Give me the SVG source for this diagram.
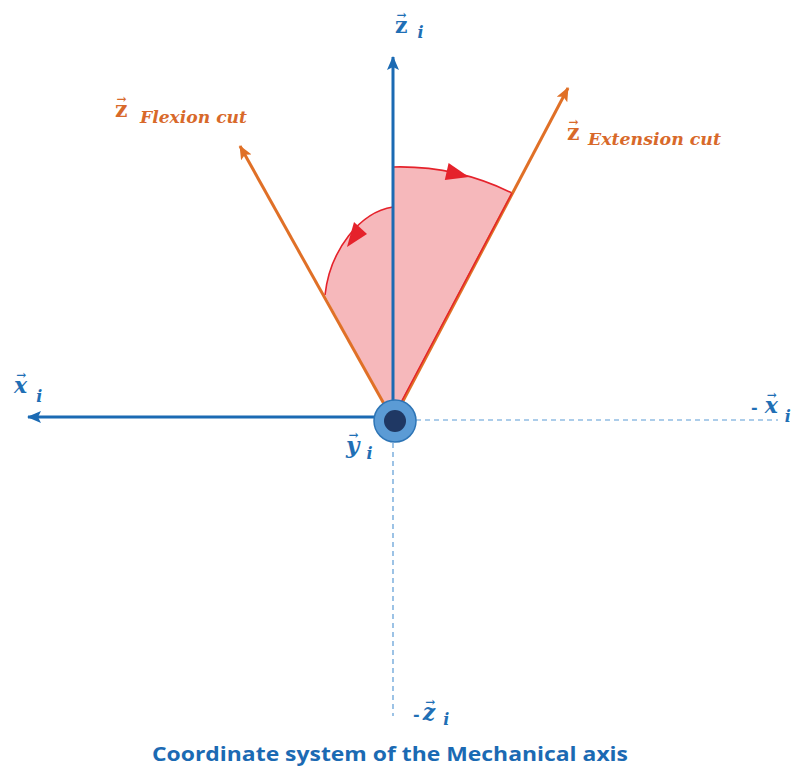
<svg xmlns="http://www.w3.org/2000/svg" width="796" height="780" viewBox="0 0 796 780">
<style>
.ax{stroke:#1b6ab3;stroke-width:3;fill:none}
.cut{stroke:#e07027;stroke-width:3;fill:none}
.dash{stroke:#5b9bd5;stroke-width:1.2;stroke-dasharray:5 4;fill:none}
.arc{stroke:#e5222b;stroke-width:1.6;fill:none}
.ah{fill:#e5222b}
.lb{font-family:"DejaVu Serif",serif;font-weight:bold;fill:#1f6fb5}
.lo{font-family:"DejaVu Serif",serif;font-weight:bold;fill:#d8692a}
.sub{font-style:italic;font-size:16px}
.v{font-size:12px;font-style:normal}
.title{font-family:"Open Sans","Liberation Sans",sans-serif;font-weight:bold;font-size:20px;fill:#1b6ab3}
</style>
<defs>
<marker id="mb" markerWidth="14" markerHeight="12" refX="13" refY="6" orient="auto" markerUnits="userSpaceOnUse" viewBox="0 0 14 12"><path d="M0,0 L14,6 L0,12 L3,6 Z" fill="#1b6ab3"/></marker>
<marker id="mo" markerWidth="14" markerHeight="12" refX="13" refY="6" orient="auto" markerUnits="userSpaceOnUse" viewBox="0 0 14 12"><path d="M0,0 L14,6 L0,12 L3,6 Z" fill="#e07027"/></marker>
</defs>

<g id="sector">
<path d="M393,420 L325,295 C330,250 360,212 393,207 L393,167 A254,254 0 0 1 512,193 Z" fill="#f6b8bb" stroke="none"/>
<path class="arc" d="M393,167 A254,254 0 0 1 512,193"/>
<path class="arc" d="M393,207 C360,212 330,250 325,295"/>
<polygon class="ah" points="469,177 444.8,180 448.6,163"/>
<polygon class="ah" points="347,247 367,234 354,222"/>
</g>

<g id="connectors">
<line class="dash" x1="416" y1="420" x2="778" y2="420"/>
<line class="dash" x1="393" y1="443" x2="393" y2="716"/>
<line class="cut" x1="393" y1="420" x2="240" y2="146" marker-end="url(#mo)"/>
<line class="cut" x1="393" y1="420" x2="568" y2="88" marker-end="url(#mo)"/>
<line x1="398" y1="408" x2="512" y2="193" stroke="#e5222b" stroke-width="1.5"/>
<line class="ax" x1="393" y1="420" x2="393" y2="57" marker-end="url(#mb)"/>
<line class="ax" x1="393" y1="417" x2="28" y2="417" marker-end="url(#mb)"/>
</g>

<g id="origin">
<circle cx="395" cy="421" r="21" fill="#5b9bd5" stroke="#2e75b6" stroke-width="1.5"/>
<circle cx="395" cy="421" r="11" fill="#1f3864"/>
</g>

<g id="label-zi">
<text class="lb" x="395" y="33" font-size="22">z<tspan class="v" dx="-11" dy="-14">→</tspan><tspan class="sub" dx="11" dy="19">i</tspan></text>
</g>
<g id="label-xi">
<text class="lb" x="14" y="393" font-size="22" font-style="italic">x<tspan class="v" dx="-11" dy="-14">→</tspan><tspan class="sub" dx="10" dy="23">i</tspan></text>
</g>
<g id="label-mxi">
<text class="lb" x="751" y="413" font-size="22" font-style="italic"><tspan font-size="16" font-style="normal">-</tspan><tspan dx="7">x</tspan><tspan class="v" dx="-11" dy="-14">→</tspan><tspan class="sub" dx="8" dy="23">i</tspan></text>
</g>
<g id="label-yi">
<text class="lb" x="346" y="453" font-size="23" font-style="italic">y<tspan class="v" dx="-11" dy="-14">→</tspan><tspan class="sub" dx="8" dy="20">i</tspan></text>
</g>
<g id="label-mzi">
<text class="lb" x="413" y="720" font-size="22" font-style="italic"><tspan font-size="16" font-style="normal">-</tspan><tspan dx="3">z</tspan><tspan class="v" dx="-10" dy="-14">→</tspan><tspan class="sub" dx="8" dy="19">i</tspan></text>
</g>
<g id="label-flexion">
<text class="lo" x="115" y="117" font-size="22">z<tspan class="v" dx="-11" dy="-14">→</tspan><tspan class="sub" x="140" dy="20" textLength="107" lengthAdjust="spacingAndGlyphs">Flexion cut</tspan></text>
</g>
<g id="label-extension">
<text class="lo" x="567" y="140" font-size="22">z<tspan class="v" dx="-11" dy="-14">→</tspan><tspan class="sub" x="588" dy="19" textLength="133" lengthAdjust="spacingAndGlyphs">Extension cut</tspan></text>
</g>
<g id="title">
<text class="title" x="390" y="761" text-anchor="middle" textLength="476" lengthAdjust="spacingAndGlyphs">Coordinate system of the Mechanical axis</text>
</g>
</svg>
